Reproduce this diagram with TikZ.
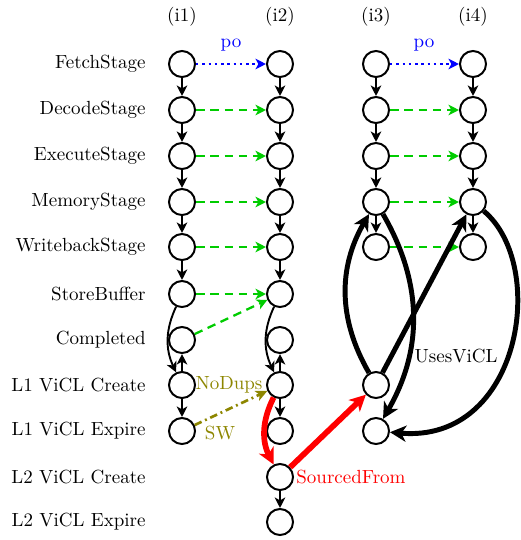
\documentclass[tikz,border=0pt]{standalone}
\usetikzlibrary{arrows.meta}
\begin{document}
\begin{tikzpicture}[x=0.526pt,y=-0.526pt,
  ev/.style={circle,draw,line width=1.05pt,minimum size=13.7pt,inner sep=0pt},
  rowlab/.style={anchor=east,inner sep=0pt},
  head/.style={inner sep=0pt},
  nxt/.style={line width=1pt,-{Stealth[length=5.5pt,width=5.5pt,inset=1.5pt]}},
  pord/.style={blue,dotted,line width=1.3pt,-{Stealth[length=5.5pt,width=5.5pt,inset=1.5pt]}},
  ppo/.style={green!80!black,dash pattern=on 4.5pt off 3pt,line width=1.2pt,-{Stealth[length=5.5pt,width=5.5pt,inset=1.5pt]}},
  vicl/.style={line width=2.6pt,-{Stealth[length=8.5pt,width=8.5pt,inset=2.5pt]}},
  src/.style={red,line width=3pt,-{Stealth[length=8.5pt,width=8.5pt,inset=2.5pt]}},
  swr/.style={olive,dash pattern=on 4pt off 2pt on 1pt off 2pt,line width=1.4pt,-{Stealth[length=6pt,width=5.5pt,inset=1.5pt]}}
]
\useasboundingbox (0,0) rectangle (521,540);

% column headers
\node[head] (h1) at (182,17) {(i1)};
\node[head] (h2) at (280,17) {(i2)};
\node[head] (h3) at (376,17) {(i3)};
\node[head] (h4) at (473,17) {(i4)};

% row labels
\node[rowlab] (rf)   at (146,64)  {FetchStage};
\node[rowlab] (rd)   at (146,110) {DecodeStage};
\node[rowlab] (re)   at (146,156) {ExecuteStage};
\node[rowlab] (rm)   at (146,202) {MemoryStage};
\node[rowlab] (rw)   at (146,247) {WritebackStage};
\node[rowlab] (rs)   at (146,294) {StoreBuffer};
\node[rowlab] (rc)   at (146,340) {Completed};
\node[rowlab] (rlc)  at (146,385) {L1 ViCL Create};
\node[rowlab] (rle)  at (146,431) {L1 ViCL Expire};
\node[rowlab] (rl2c) at (146,477) {L2 ViCL Create};
\node[rowlab] (rl2e) at (146,522) {L2 ViCL Expire};

% instruction i1
\node[ev] (f1)  at (182,64)  {};
\node[ev] (d1)  at (182,110) {};
\node[ev] (e1)  at (182,156) {};
\node[ev] (m1)  at (182,202) {};
\node[ev] (w1)  at (182,247) {};
\node[ev] (s1)  at (182,294) {};
\node[ev] (c1)  at (182,340) {};
\node[ev] (lc1) at (182,385) {};
\node[ev] (le1) at (182,431) {};

% instruction i2
\node[ev] (f2)   at (280,64)  {};
\node[ev] (d2)   at (280,110) {};
\node[ev] (e2)   at (280,156) {};
\node[ev] (m2)   at (280,202) {};
\node[ev] (w2)   at (280,247) {};
\node[ev] (s2)   at (280,294) {};
\node[ev] (c2)   at (280,340) {};
\node[ev] (lc2)  at (280,385) {};
\node[ev] (le2)  at (280,431) {};
\node[ev] (l2c2) at (280,477) {};
\node[ev] (l2e2) at (280,522) {};

% instruction i3
\node[ev] (f3)  at (376,64)  {};
\node[ev] (d3)  at (376,110) {};
\node[ev] (e3)  at (376,156) {};
\node[ev] (m3)  at (376,202) {};
\node[ev] (w3)  at (376,247) {};
\node[ev] (lc3) at (376,385) {};
\node[ev] (le3) at (376,431) {};

% instruction i4
\node[ev] (f4) at (473,64)  {};
\node[ev] (d4) at (473,110) {};
\node[ev] (e4) at (473,156) {};
\node[ev] (m4) at (473,202) {};
\node[ev] (w4) at (473,247) {};

% pipeline order inside each instruction
\draw[nxt] (f1) -- (d1);
\draw[nxt] (d1) -- (e1);
\draw[nxt] (e1) -- (m1);
\draw[nxt] (m1) -- (w1);
\draw[nxt] (w1) -- (s1);
\draw[nxt] (s1) to[bend right=25] (lc1);
\draw[nxt] (lc1) -- (c1);
\draw[nxt] (lc1) -- (le1);

\draw[nxt] (f2) -- (d2);
\draw[nxt] (d2) -- (e2);
\draw[nxt] (e2) -- (m2);
\draw[nxt] (m2) -- (w2);
\draw[nxt] (w2) -- (s2);
\draw[nxt] (s2) to[bend right=25] (lc2);
\draw[nxt] (lc2) -- (c2);
\draw[nxt] (lc2) -- (le2);
\draw[nxt] (l2c2) -- (l2e2);

\draw[nxt] (f3) -- (d3);
\draw[nxt] (d3) -- (e3);
\draw[nxt] (e3) -- (m3);
\draw[nxt] (m3) -- (w3);

\draw[nxt] (f4) -- (d4);
\draw[nxt] (d4) -- (e4);
\draw[nxt] (e4) -- (m4);
\draw[nxt] (m4) -- (w4);

% program order
\draw[pord] (f1) -- (f2);
\node[blue,inner sep=0pt] (po12) at (231,45) {po};
\draw[pord] (f3) -- (f4);
\node[blue,inner sep=0pt] (po34) at (424,45) {po};

% preserved program order
\draw[ppo] (d1) -- (d2);
\draw[ppo] (e1) -- (e2);
\draw[ppo] (m1) -- (m2);
\draw[ppo] (w1) -- (w2);
\draw[ppo] (s1) -- (s2);
\draw[ppo] (c1) -- (s2);

\draw[ppo] (d3) -- (d4);
\draw[ppo] (e3) -- (e4);
\draw[ppo] (m3) -- (m4);
\draw[ppo] (w3) -- (w4);

% single writer / no duplicates
\draw[swr] (le1) -- (lc2);
\node[olive,inner sep=0pt] (nodups) at (229,385) {NoDups};
\node[olive,inner sep=0pt] (swl) at (220,433) {SW};

% sourced from
\draw[src] (lc2) to[bend right=27] (l2c2);
\draw[src] (l2c2) -- (lc3);
\node[red,anchor=west,inner sep=0pt] (srcl) at (296,477) {SourcedFrom};

% uses ViCL
\draw[vicl] (lc3) to[bend left=30] (m3);
\draw[vicl] (m3) to[bend left=30] (le3);
\draw[vicl] (lc3) -- (m4);
\draw[vicl] (m4) to[out=-40,in=-5,out looseness=0.9,in looseness=1.4] (le3);
\node[inner sep=0pt] (uses) at (456,356) {UsesViCL};

\end{tikzpicture}
\end{document}
